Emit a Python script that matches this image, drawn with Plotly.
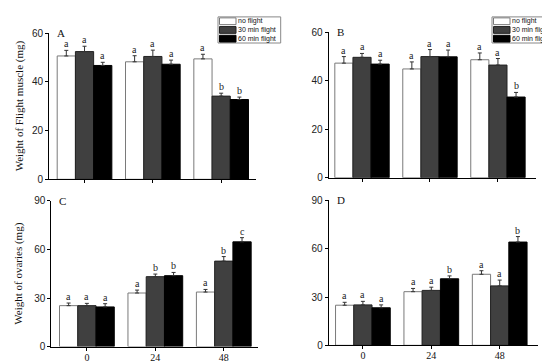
import plotly.graph_objects as go

# ---------------- data ----------------
groups = [0, 1, 2]
group_labels = ["0", "24", "48"]
series_names = ["no flight", "30 min flight", "60 min flight"]

# Panel A: weight of flight muscle
A_no = [50.7, 48.3, 49.5]
A_30 = [52.5, 50.5, 34.2]
A_60 = [46.8, 47.3, 32.8]
A_no_err = [2.3, 2.5, 1.9]
A_30_err = [2.2, 2.6, 1.2]
A_60_err = [1.3, 1.7, 1.0]
A_no_sig = ["a", "a", "a"]
A_30_sig = ["a", "a", "b"]
A_60_sig = ["a", "a", "b"]

# Panel B: weight of flight muscle
B_no = [47.3, 44.9, 48.7]
B_30 = [49.7, 50.0, 46.5]
B_60 = [46.9, 49.9, 33.3]
B_no_err = [2.7, 2.9, 2.8]
B_30_err = [1.6, 2.9, 2.7]
B_60_err = [1.6, 2.8, 1.9]
B_no_sig = ["a", "a", "a"]
B_30_sig = ["a", "a", "a"]
B_60_sig = ["a", "a", "b"]

# Panel C: weight of ovaries
C_no = [25.3, 33.1, 33.7]
C_30 = [25.3, 43.2, 52.8]
C_60 = [24.5, 43.8, 64.7]
C_no_err = [1.6, 1.8, 1.6]
C_30_err = [1.4, 1.6, 2.8]
C_60_err = [2.0, 2.0, 2.6]
C_no_sig = ["a", "a", "a"]
C_30_sig = ["a", "b", "b"]
C_60_sig = ["a", "b", "c"]

# Panel D: weight of ovaries
D_no = [24.9, 33.3, 44.1]
D_30 = [25.1, 34.1, 36.9]
D_60 = [23.3, 41.3, 64.1]
D_no_err = [1.8, 2.0, 2.2]
D_30_err = [2.2, 2.0, 3.6]
D_60_err = [1.8, 1.8, 3.4]
D_no_sig = ["a", "a", "a"]
D_30_sig = ["a", "a", "a"]
D_60_sig = ["a", "b", "b"]

panel_letters = ["A", "B", "C", "D"]
y_title_top = "Weight of Flight muscle (mg)"
y_title_bottom = "Weight of ovaries (mg)"

# ---------------- styling ----------------
W, H = 550, 362
SANS = "Liberation Sans, Arial, sans-serif"
SERIF = "Liberation Serif, Times New Roman, serif"
fills = ["#ffffff", "#404040", "#000000"]
lines = ["#7a7a7a", "#222222", "#000000"]

panels = [
    dict(vals=[A_no, A_30, A_60], errs=[A_no_err, A_30_err, A_60_err],
         sig=[A_no_sig, A_30_sig, A_60_sig], xd=[41 / W, 248 / W],
         yd=[1 - 171 / H, 1 - 20 / H], xr=[-0.52, 2.51], yr=[0, 60], dt=20, xlab=False),
    dict(vals=[B_no, B_30, B_60], errs=[B_no_err, B_30_err, B_60_err],
         sig=[B_no_sig, B_30_sig, B_60_sig], xd=[320.7 / W, 528 / W],
         yd=[1 - 169.3 / H, 1 - 19 / H], xr=[-0.49, 2.56], yr=[0, 60], dt=20, xlab=False),
    dict(vals=[C_no, C_30, C_60], errs=[C_no_err, C_30_err, C_60_err],
         sig=[C_no_sig, C_30_sig, C_60_sig], xd=[43.3 / W, 250 / W],
         yd=[1 - 344 / H, 1 - 193.3 / H], xr=[-0.52, 2.50], yr=[0, 90], dt=30, xlab=True),
    dict(vals=[D_no, D_30, D_60], errs=[D_no_err, D_30_err, D_60_err],
         sig=[D_no_sig, D_30_sig, D_60_sig], xd=[320.7 / W, 530 / W],
         yd=[1 - 342.7 / H, 1 - 192.7 / H], xr=[-0.50, 2.56], yr=[0, 90], dt=30, xlab=True),
]

fig = go.Figure()
annotations = []
layout_axes = {}
bar_w = 0.8 / 3

for p_i, p in enumerate(panels):
    k = "" if p_i == 0 else str(p_i + 1)
    xa, ya = "x" + k, "y" + k
    for s_i in range(3):
        fig.add_trace(go.Bar(
            x=groups, y=p["vals"][s_i], name=series_names[s_i],
            xaxis=xa, yaxis=ya, showlegend=False,
            marker=dict(color=fills[s_i], line=dict(color=lines[s_i], width=1)),
            error_y=dict(type="data", symmetric=False, array=p["errs"][s_i],
                         arrayminus=[0] * 3, color="#333333", thickness=1, width=2),
        ))
        for g_i, g in enumerate(groups):
            annotations.append(dict(
                x=g + (s_i - 1) * bar_w, y=p["vals"][s_i][g_i] + p["errs"][s_i][g_i],
                xref=xa, yref=ya, text=p["sig"][s_i][g_i], showarrow=False,
                yanchor="bottom", xanchor="center", yshift=0, borderpad=0,
                font=dict(family=SERIF, size=10, color="#222222"),
            ))
    layout_axes["xaxis" + k] = dict(
        domain=p["xd"], range=p["xr"], anchor=ya, tickmode="array", tickvals=groups,
        ticktext=group_labels if p["xlab"] else ["", "", ""],
        ticks="outside", ticklen=3, tickwidth=1, tickcolor="#000", showline=True,
        linecolor="#000", linewidth=1, showgrid=False, zeroline=False,
        ticklabelstandoff=-2,
        tickfont=dict(family=SERIF, size=10, color="#111"),
    )
    layout_axes["yaxis" + k] = dict(
        domain=p["yd"], range=p["yr"], anchor=xa, dtick=p["dt"], tick0=0,
        ticks="outside", ticklen=3, tickwidth=1, tickcolor="#000", showline=True,
        linecolor="#000", linewidth=1, showgrid=False, zeroline=False,
        tickfont=dict(family=SANS, size=10, color="#222"),
    )
    # panel letter
    annotations.append(dict(
        x=p["xd"][0], y=p["yd"][1], xref="paper", yref="paper", text=panel_letters[p_i],
        showarrow=False, xanchor="left", yanchor="middle", xshift=7, yshift=0, borderpad=0,
        font=dict(family=SERIF, size=11, color="#111"),
    ))

# y axis titles
annotations.append(dict(x=11 / W, y=(panels[0]["yd"][0] + panels[0]["yd"][1]) / 2,
                        xref="paper", yref="paper", text=y_title_top, textangle=-90,
                        xanchor="center", yanchor="middle",
                        showarrow=False, font=dict(family=SERIF, size=11, color="#111")))
annotations.append(dict(x=11 / W, y=(panels[2]["yd"][0] + panels[2]["yd"][1]) / 2,
                        xref="paper", yref="paper", text=y_title_bottom, textangle=-90,
                        xanchor="center", yanchor="middle",
                        showarrow=False, font=dict(family=SERIF, size=11, color="#111")))

# manual legends (top right of A and B)
shapes = []
for (lx0, lx1) in [(210, 272.7), (484, 546)]:
    shapes.append(dict(type="rect", xref="paper", yref="paper",
                       x0=lx0 / W, x1=lx1 / W, y0=1 - 30 / H, y1=1 - 3 / H,
                       line=dict(color="#888", width=1), fillcolor="rgba(0,0,0,0)"))
    row_y = [7.5, 16.5, 25.5]
    for s_i in range(3):
        cy = row_y[s_i]
        shapes.append(dict(type="rect", xref="paper", yref="paper",
                           x0=(lx0 + 1.5) / W, x1=(lx0 + 18) / W,
                           y0=1 - (cy + 3.5) / H, y1=1 - (cy - 3.5) / H,
                           line=dict(color=lines[s_i], width=1), fillcolor=fills[s_i]))
        annotations.append(dict(x=(lx0 + 19) / W, y=1 - cy / H, xref="paper", yref="paper",
                                text=series_names[s_i], showarrow=False, xanchor="left",
                                yanchor="middle", borderpad=0,
                                font=dict(family=SANS, size=7, color="#111")))

fig.update_layout(
    width=W, height=H, margin=dict(l=0, r=0, t=0, b=0), autosize=False,
    paper_bgcolor="white", plot_bgcolor="white", barmode="group",
    bargap=0.2, bargroupgap=0, showlegend=False,
    annotations=annotations, shapes=shapes, **layout_axes,
)

fig.write_html("out.html")
